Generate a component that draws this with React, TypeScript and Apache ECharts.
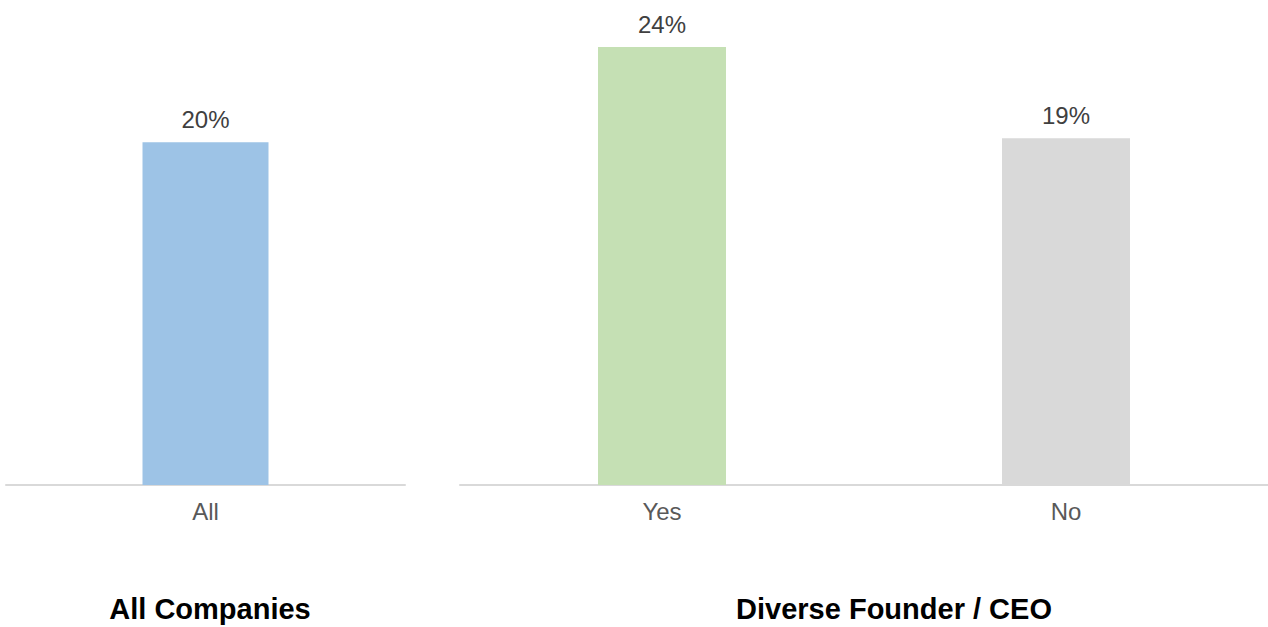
import React, { useEffect, useRef } from "react";
import * as echarts from "echarts";

const leftCategories = ["All"];
const leftValues = [20];
const rightCategories = ["Yes", "No"];
const rightValues = [24, 19];
const leftTitle = "All Companies";
const rightTitle = "Diverse Founder / CEO";

const FONT = "'Liberation Sans', Arial, sans-serif";

export default function App() {
  const ref = useRef<HTMLDivElement>(null);
  useEffect(() => {
    if (!ref.current) return;
    const chart = echarts.init(ref.current, undefined, { renderer: "svg" });
    const labelStyle = {
      show: true,
      position: "top" as const,
      distance: 11,
      fontSize: 24,
      color: "#404040",
      fontFamily: FONT,
      formatter: (p: any) => `${p.value}%`,
    };
    const xAxisCommon = {
      type: "category" as const,
      axisLine: { show: true, lineStyle: { color: "#d9d9d9", width: 2 } },
      axisTick: { show: false },
      axisLabel: { fontSize: 24, color: "#595959", margin: 14, fontFamily: FONT },
    };
    const yAxisCommon = {
      type: "value" as const,
      min: 0,
      show: false,
      splitLine: { show: false },
    };
    const titleText = { fontSize: 29, fontWeight: "bold" as const, color: "#000", fontFamily: FONT };
    chart.setOption({
      animation: false,
      backgroundColor: "#ffffff",
      title: [
        { text: leftTitle, left: 210, top: 594, textAlign: "center", padding: 0, textStyle: titleText },
        { text: rightTitle, left: 894, top: 594, textAlign: "center", padding: 0, textStyle: titleText },
      ],
      grid: [
        { left: 6, width: 399, top: 47, height: 438 },
        { left: 460, width: 808, top: 47, height: 438 },
      ],
      xAxis: [
        { ...xAxisCommon, gridIndex: 0, data: leftCategories },
        { ...xAxisCommon, gridIndex: 1, data: rightCategories },
      ],
      yAxis: [
        { ...yAxisCommon, gridIndex: 0, max: 25.55 },
        { ...yAxisCommon, gridIndex: 1, max: 24 },
      ],
      series: [
        {
          type: "bar",
          xAxisIndex: 0,
          yAxisIndex: 0,
          data: leftValues,
          barWidth: 126,
          itemStyle: { color: "#9dc3e6" },
          label: labelStyle,
        },
        {
          type: "bar",
          xAxisIndex: 1,
          yAxisIndex: 1,
          data: rightValues.map((v, i) => ({
            value: v,
            itemStyle: { color: i === 0 ? "#c5e0b4" : "#d9d9d9" },
          })),
          barWidth: 128,
          label: labelStyle,
        },
      ],
    });
    return () => chart.dispose();
  }, []);
  return (
    <div
      ref={ref}
      style={{ position: "fixed", left: 0, top: 0, width: 1268, height: 627 }}
    />
  );
}
